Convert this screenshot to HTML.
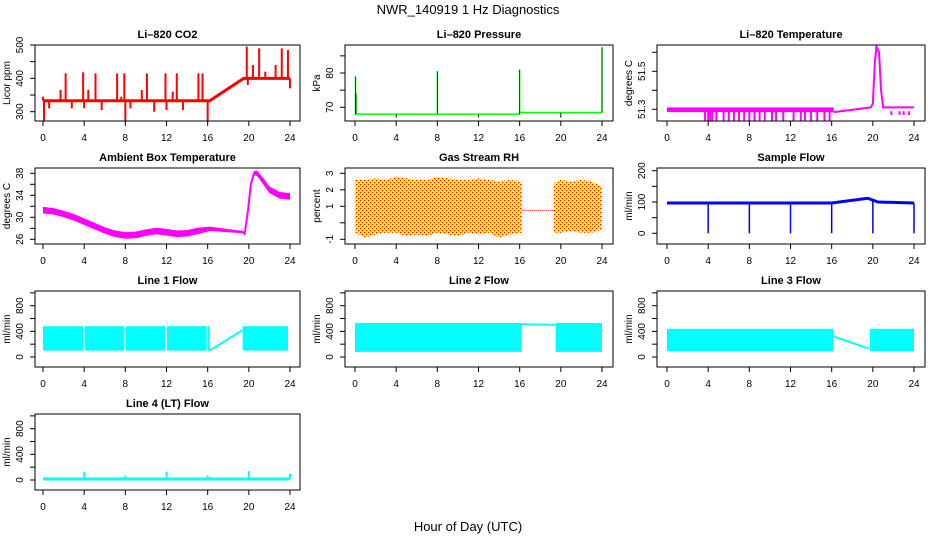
<!DOCTYPE html>
<html><head><meta charset="utf-8"><style>
html,body{margin:0;padding:0;background:#fff}
svg{display:block;font-family:"Liberation Sans",sans-serif}
</style></head><body>
<svg id="c" width="936" height="540" viewBox="0 0 936 540" xmlns="http://www.w3.org/2000/svg">
<defs><pattern id="rhpat" width="4" height="4" patternUnits="userSpaceOnUse"><rect width="4" height="4" fill="#ffff00"/><rect x="0" y="0" width="1.2" height="1.2" fill="#ff0000"/><rect x="2" y="2" width="1.2" height="1.2" fill="#ff0000"/></pattern></defs>
<text x="468" y="14" text-anchor="middle" font-size="13">NWR_140919  1 Hz Diagnostics</text>
<text x="468" y="531" text-anchor="middle" font-size="13">Hour of Day (UTC)</text>
</svg>
<script>
// ---- data ----
const xTicks = [0,4,8,12,16,20,24];
const co2Times = [0,16.2,19.5,24];
const co2Vals = [333,333,400,400];
const co2SpikeT = [0,0.1,0.6,1.7,2.2,2.8,3.9,4.0,4.4,5.1,5.7,7.2,7.6,7.9,8.0,8.5,9.6,10.1,10.8,11.9,12.0,12.6,13.0,13.6,15.1,15.5,16.0,19.8,19.9,20.4,21.0,21.6,22.6,23.2,23.8,24.0];
const co2SpikeV = [345,270,310,365,415,310,418,310,365,415,305,415,345,415,270,310,365,415,300,415,305,360,415,305,415,415,270,495,380,440,490,420,440,490,485,370];
const presTimes = [0,16,16,24];
const presVals = [68,68,68.5,68.5];
const presSpikeT = [0.05,0.1,4,8,12,16,20,24];
const presSpikeV = [79,74,67,80.5,67,81,67,87.5];
const tempBandT = [0,16.2];
const tempBandLo = [51.285,51.285];
const tempBandHi = [51.31,51.31];
const tempSpikeT = [3.7,4.0,4.2,4.4,4.8,5.5,6.0,6.5,7.0,7.5,8.0,8.5,9.0,9.5,10.2,10.6,11.3,12.3,13.0,13.4,14.0,14.6,15.3,15.8,21.8,22.6,23.0,23.5];
const tempSpikeV = [51.24,51.24,51.24,51.24,51.24,51.24,51.24,51.24,51.24,51.24,51.24,51.24,51.24,51.24,51.24,51.24,51.24,51.24,51.24,51.24,51.24,51.24,51.24,51.24,51.27,51.27,51.27,51.27];
const tempLineT = [16.2,19.8,20.0,20.2,20.35,20.6,20.8,21.0,24];
const tempLineV = [51.285,51.31,51.33,51.55,51.63,51.6,51.4,51.31,51.31];
const ambT = [0,1,2,3,4,5,6,7,8,9,10,11,12,13,14,15,16.2,19.4,19.6,19.9,20.2,20.5,20.8,21.5,22,23,24];
const ambV = [31.3,31.1,30.6,30,29.2,28.4,27.6,27,26.7,26.8,27.2,27.5,27.3,27,27.1,27.5,27.9,27.3,27,31,36,38,38,36.3,35,34,33.8];
const ambW = [0.6,0.6,0.6,0.6,0.6,0.6,0.6,0.6,0.6,0.6,0.6,0.6,0.6,0.6,0.6,0.6,0.4,0.2,0.3,0.3,0.3,0.4,0.5,0.6,0.6,0.6,0.6];
const rhT1 = [0,1,2,3,4,5,6,7,8,9,10,11,12,13,14,15,16.2];
const rhHi1 = [2.6,2.6,2.7,2.6,2.8,2.7,2.6,2.6,2.8,2.7,2.6,2.6,2.7,2.6,2.5,2.6,2.5];
const rhLo1 = [-0.6,-0.9,-0.7,-0.6,-0.6,-0.8,-0.7,-0.8,-0.6,-0.7,-0.8,-0.6,-0.7,-0.6,-0.9,-0.7,-0.6];
const rhT2 = [19.3,20,21,22,23,24];
const rhHi2 = [2.4,2.6,2.5,2.6,2.5,2.2];
const rhLo2 = [-0.6,-0.6,-0.5,-0.6,-0.6,-0.4];
const rhGapT = [16.2,19.3];
const rhGapV = [0.75,0.75];
const sfT = [0,16,19.5,20.5,24];
const sfV = [97,97,112,100,97];
const sfDipT = [4,8,12,16,20,24];
const sfDipV = [0,0,0,0,0,0];
const l1SegStart = [0,4.05,8.05,12.05,16.0,19.4];
const l1SegEnd = [3.9,7.9,11.9,15.9,16.2,23.8];
const l1Lo = 100, l1Hi = 480;
const l1LineT = [16.2,19.4];
const l1LineV = [100,420];
const l2SegStart = [0,19.5];
const l2SegEnd = [16.2,24];
const l2Lo = 80, l2Hi = 530;
const l2LineT = [16.2,19.5];
const l2LineV = [510,500];
const l3SegStart = [0,19.7];
const l3SegEnd = [16.2,24];
const l3Lo = 90, l3Hi = 440;
const l3LineT = [16.2,19.6];
const l3LineV = [320,130];
const l4T = [0,24];
const l4V = [15,15];
const l4SpikeT = [4,8,12,16,20,24];
const l4SpikeV = [130,70,130,70,140,100];

// ---- geometry ----
const svg = document.getElementById('c');
const NS = 'http://www.w3.org/2000/svg';
const cols = [{l:35,r:300,x0:43,x24:290},{l:345,r:613,x0:355,x24:602},{l:657,r:925,x0:667,x24:914}];
const rows = [45,168,291,414];
const BH = 76;
function mk(tag, attrs, parent){
  const e = document.createElementNS(NS, tag);
  for (const k in attrs) e.setAttribute(k, attrs[k]);
  (parent||svg).appendChild(e);
  return e;
}
function panel(name, title, ci, ri, v1, p1, v2, p2, yt, yl, ylab){
  const c = cols[ci], top = rows[ri], bot = top + BH;
  const g = mk('g', {});
  
  
  const X = t => c.x0 + t/24*(c.x24 - c.x0);
  const Y = v => p1 + (v - v1)/(v2 - v1)*(p2 - p1);
  const clipId = 'clip-' + name;
  const cp = mk('clipPath', {id: clipId}, g);
  mk('rect', {x:c.l, y:top, width:c.r-c.l, height:BH}, cp);
  const plot = mk('g', {'clip-path':'url(#'+clipId+')'}, g);
  
  
  const box = mk('rect', {x:c.l, y:top, width:c.r-c.l, height:BH, fill:'none', stroke:'#000', 'stroke-width':1}, g);
  
  
  const t = mk('text', {x:(c.l+c.r)/2, y:top-7, 'text-anchor':'middle', 'font-size':11, 'font-weight':'bold'}, g);
  t.textContent = title;
  
  
  const xa = mk('g', {}, g);
  
  
  mk('line', {x1:X(0), x2:X(24), y1:bot, y2:bot, stroke:'#000'}, xa);
  xTicks.forEach(v => {
    mk('line', {x1:X(v), x2:X(v), y1:bot, y2:bot+5, stroke:'#000'}, xa);
    const tl = mk('text', {x:X(v), y:bot+20, 'text-anchor':'middle', 'font-size':10}, xa);
    tl.textContent = v;
  });
  const ya = mk('g', {}, g);
  
  
  mk('line', {x1:c.l, x2:c.l, y1:Y(yt[0]), y2:Y(yt[yt.length-1]), stroke:'#000'}, ya);
  yt.forEach((v,i) => {
    mk('line', {x1:c.l-5, x2:c.l, y1:Y(v), y2:Y(v), stroke:'#000'}, ya);
    if (yl[i] !== '') {
      const tl = mk('text', {x:c.l-12, y:Y(v), 'text-anchor':'middle', 'font-size':10, transform:'rotate(-90 '+(c.l-12)+' '+Y(v)+')'}, ya);
      tl.textContent = yl[i];
    }
  });
  const yy = (top+bot)/2;
  const ylt = mk('text', {x:c.l-25, y:yy, 'text-anchor':'middle', 'font-size':10, transform:'rotate(-90 '+(c.l-25)+' '+yy+')'}, g);
  ylt.textContent = ylab;
  
  
  return {X, Y, plot};
}
function line(p, ts, vs, color, w, nm){
  const pts = ts.map((t,i)=>p.X(t)+','+p.Y(vs[i])).join(' ');
  const e = mk('polyline', {points:pts, fill:'none', stroke:color, 'stroke-width':w}, p.plot);
  
  
  return e;
}
function interp(ts, vs, t){
  if (t <= ts[0]) return vs[0];
  for (let i=1;i<ts.length;i++) if (t <= ts[i]) { const f=(t-ts[i-1])/((ts[i]-ts[i-1])||1); return vs[i-1]+f*(vs[i]-vs[i-1]); }
  return vs[vs.length-1];
}
function spikes(p, ts, vs, baseFn, color, w, nm){
  ts.forEach((t,i) => {
    const e = mk('line', {x1:p.X(t), x2:p.X(t), y1:p.Y(baseFn(t)), y2:p.Y(vs[i]), stroke:color, 'stroke-width':w}, p.plot);
    
    
  });
}
function band(p, ts, lo, hi, fill, nm){
  const up = ts.map((t,i)=>p.X(t)+','+p.Y(hi[i]));
  const dn = ts.map((t,i)=>p.X(t)+','+p.Y(lo[i])).reverse();
  const e = mk('polygon', {points:up.concat(dn).join(' '), fill:fill}, p.plot);
  
  
}
function segs(p, starts, ends, lo, hi, fill, nm){
  starts.forEach((s,i) => {
    const e = mk('rect', {x:p.X(s), y:p.Y(hi), width:Math.max(1,p.X(ends[i])-p.X(s)), height:p.Y(lo)-p.Y(hi), fill:fill}, p.plot);
    
    
  });
}

let p = panel('co2','Li\u2013820 CO2',0,0,300,111.7,500,45,[300,350,400,450,500],['300','','400','','500'],'Licor ppm');
spikes(p, co2SpikeT, co2SpikeV, t=>interp(co2Times,co2Vals,t), '#ff0000', 2, 'co2-spike');
line(p, co2Times, co2Vals, '#ff0000', 3, 'co2-series');
p = panel('pressure','Li\u2013820 Pressure',1,0,70,107.3,80,73,[70,75,80,85],['70','','80',''],'kPa');
line(p, presTimes, presVals, '#00ff00', 1.5, 'pressure-series');
spikes(p, presSpikeT, presSpikeV, t=>interp(presTimes,presVals,t), '#00ff00', 1.5, 'pressure-spike');
spikes(p, presSpikeT, presSpikeV, t=>interp(presTimes,presVals,t), '#000', 0.6, 'pressure-spike-dots');
p = panel('li820-temp','Li\u2013820 Temperature',2,0,51.3,109.3,51.5,71.3,[51.3,51.4,51.5,51.6],['51.3','','51.5',''],'degrees C');
band(p, tempBandT, tempBandLo, tempBandHi, '#ff00ff', 'li820-temp-band');
spikes(p, tempSpikeT, tempSpikeV, t=>51.29, '#ff00ff', 2, 'li820-temp-spike');
line(p, tempLineT, tempLineV, '#ff00ff', 2, 'li820-temp-series');
p = panel('ambient-temp','Ambient Box Temperature',0,1,26,239.3,38,173.3,[26,28,30,32,34,36,38],['26','','30','','34','','38'],'degrees C');
band(p, ambT, ambT.map((t,i)=>ambV[i]-ambW[i]), ambT.map((t,i)=>ambV[i]+ambW[i]), '#ff00ff', 'ambient-temp-band');
line(p, ambT, ambV, '#ff00ff', 2, 'ambient-temp-series');
p = panel('gas-rh','Gas Stream RH',1,1,-1,239.3,3,173.3,[-1,0,1,2,3],['-1','','1','2','3'],'percent');
band(p, rhT1, rhLo1, rhHi1, 'url(#rhpat)', 'gas-rh-band-1');
band(p, rhT2, rhLo2, rhHi2, 'url(#rhpat)', 'gas-rh-band-2');
line(p, rhGapT, rhGapV, '#ff0000', 1, 'gas-rh-gap-line').setAttribute('stroke-dasharray','1 1');
p = panel('sample-flow','Sample Flow',2,1,0,233.3,200,170.7,[0,50,100,150,200],['0','','100','','200'],'ml/min');
line(p, sfT, sfV, '#0000ff', 3, 'sample-flow-series');
spikes(p, sfDipT, sfDipV, t=>interp(sfT,sfV,t), '#0000ff', 1.5, 'sample-flow-dip');
const fT = [0,200,400,600,800,1000], fL = ['0','','400','','800',''];
p = panel('line1-flow','Line 1 Flow',0,2,0,rows[2]+66,800,rows[2]+14.7,fT,fL,'ml/min');
segs(p, l1SegStart, l1SegEnd, l1Lo, l1Hi, '#00ffff', 'line1-flow-band');
line(p, l1LineT, l1LineV, '#00ffff', 2, 'line1-flow-series');
p = panel('line2-flow','Line 2 Flow',1,2,0,rows[2]+66,800,rows[2]+14.7,fT,fL,'ml/min');
segs(p, l2SegStart, l2SegEnd, l2Lo, l2Hi, '#00ffff', 'line2-flow-band');
line(p, l2LineT, l2LineV, '#00ffff', 2, 'line2-flow-series');
p = panel('line3-flow','Line 3 Flow',2,2,0,rows[2]+66,800,rows[2]+14.7,fT,fL,'ml/min');
segs(p, l3SegStart, l3SegEnd, l3Lo, l3Hi, '#00ffff', 'line3-flow-band');
line(p, l3LineT, l3LineV, '#00ffff', 2, 'line3-flow-series');
p = panel('line4-flow','Line 4 (LT) Flow',0,3,0,rows[3]+66,800,rows[3]+14.7,fT,fL,'ml/min');
line(p, l4T, l4V, '#00ffff', 3, 'line4-flow-series');
spikes(p, l4SpikeT, l4SpikeV, t=>15, '#00ffff', 2, 'line4-flow-spike');
</script>
</body></html>
